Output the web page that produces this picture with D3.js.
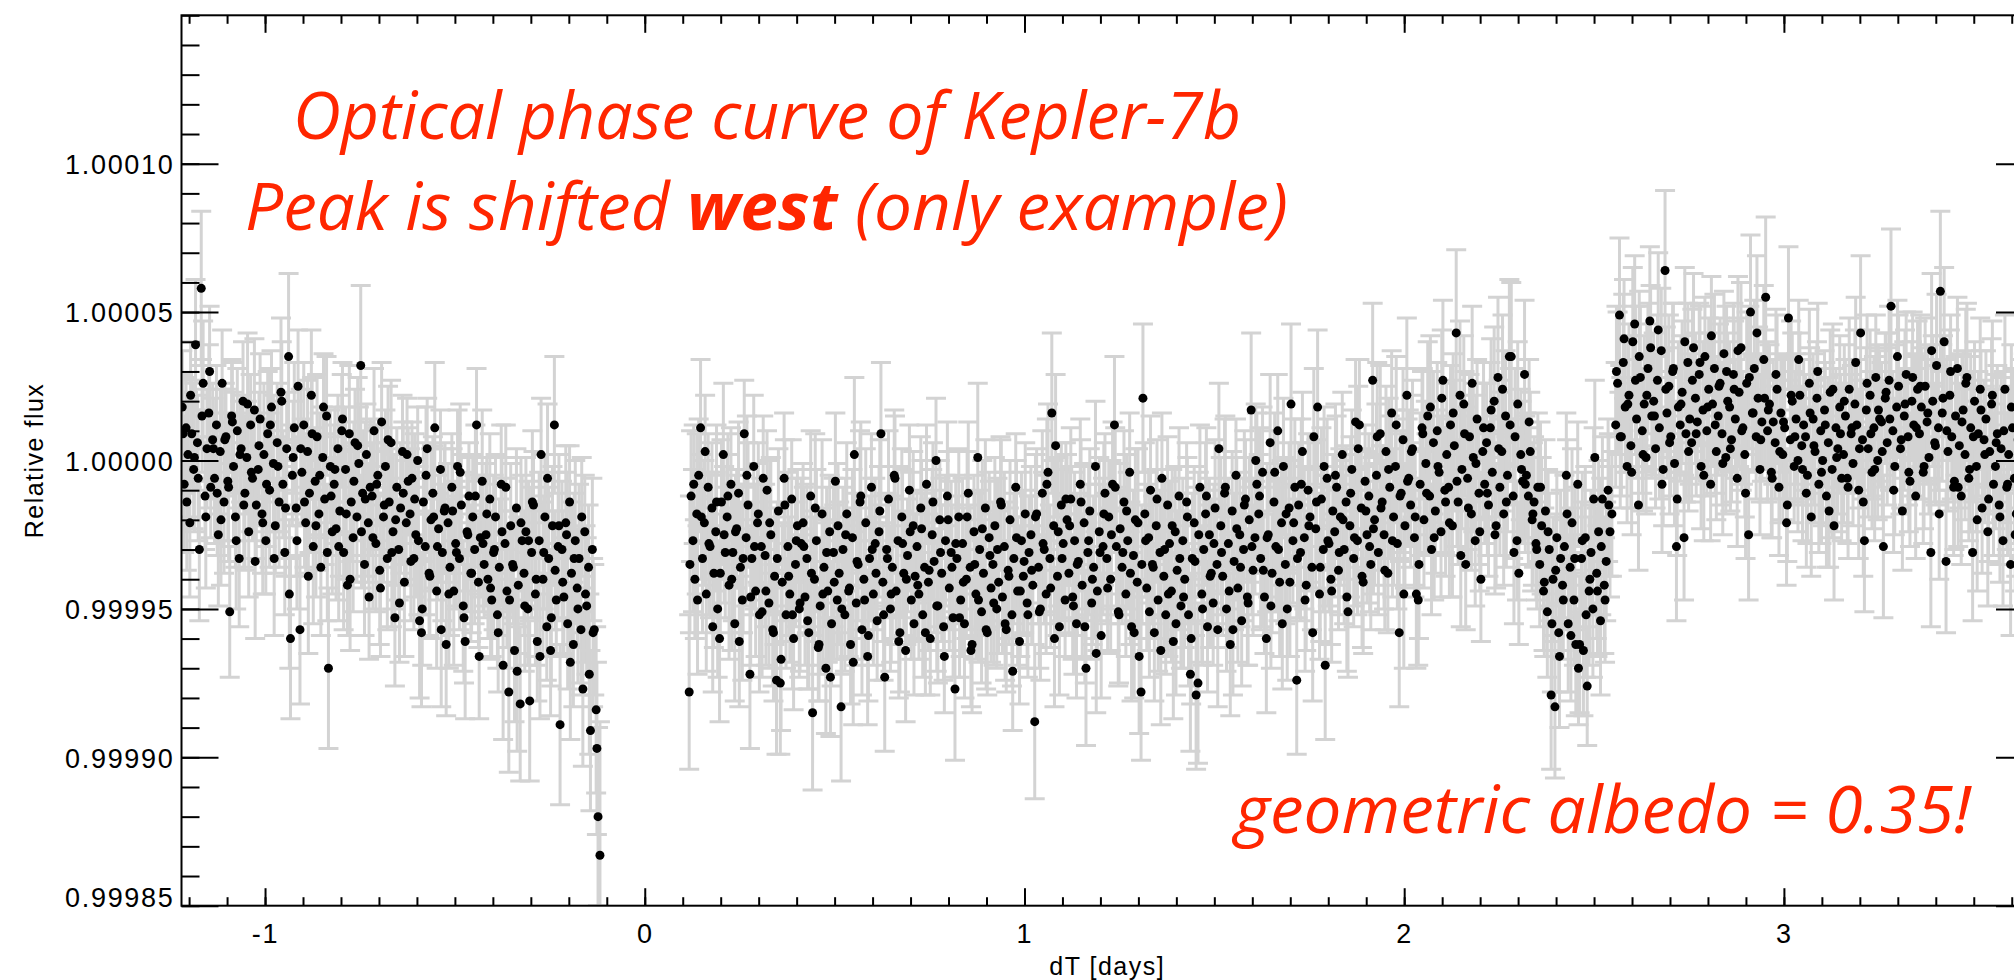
<!DOCTYPE html>
<html>
<head>
<meta charset="utf-8">
<title>Optical phase curve of Kepler-7b</title>
<script src="https://cdn.jsdelivr.net/npm/d3@7"></script>
<style>
  body { margin: 0; background: #fff; }
  svg { display: block; }
</style>
</head>
<body>
<div id="container"></div>
<script>

// 1 - DATA: dT in thousandths of a day, flux and error in ppm

// first chunk, before the transit gap
const dtA = [
  -1218,-1213,-1208,-1203,-1198,-1193,-1188,-1183,-1178,-1173,-1168,-1163,-1158,-1153,-1148,-1143,-1138,-1133,-1128,-1123,
  -1118,-1113,-1108,-1103,-1098,-1093,-1088,-1083,-1078,-1073,-1068,-1063,-1058,-1053,-1048,-1043,-1038,-1033,-1028,-1023,
  -1018,-1013,-1008,-1003,-998,-993,-988,-983,-978,-973,-968,-963,-958,-953,-948,-943,-938,-933,-928,-923,
  -918,-913,-908,-903,-898,-893,-888,-883,-878,-873,-868,-863,-858,-853,-848,-843,-838,-833,-828,-823,
  -818,-813,-808,-803,-798,-793,-788,-783,-778,-773,-768,-763,-758,-753,-748,-743,-738,-733,-728,-723,
  -718,-713,-708,-703,-698,-693,-688,-683,-678,-673,-668,-663,-658,-653,-648,-643,-638,-633,-628,-623,
  -618,-613,-608,-603,-598,-593,-588,-583,-578,-573,-568,-563,-558,-553,-548,-543,-538,-533,-528,-523,
  -518,-513,-508,-503,-498,-493,-488,-483,-478,-473,-468,-463,-458,-453,-448,-443,-438,-433,-428,-423,
  -418,-413,-408,-403,-398,-393,-388,-383,-378,-373,-368,-363,-358,-353,-348,-343,-338,-333,-328,-323,
  -318,-313,-308,-303,-298,-293,-288,-283,-278,-273,-268,-263,-258,-253,-248,-243,-238,-233,-228,-223,
  -218,-213,-208,-203,-198,-193,-188,-183,-178,-173,-168,-163,-158,-153,-148,-143,-138,-133,-128,-123,
  -118
];
const fluxA = [
  18,-8,11,2,-21,9,-3,39,6,-30,58,26,-12,4,16,-9,7,-6,12,-25,
  3,26,-14,8,-7,-51,15,-2,-19,10,-33,4,20,-11,1,-24,12,-6,17,-15,
  -3,14,-18,2,-27,9,-10,18,-1,-22,6,-14,23,-8,-31,4,35,-60,-5,11,
  -16,25,-57,-4,12,-21,3,-11,22,-29,-7,8,-18,-36,1,-13,15,-70,-2,-24,
  -8,-23,4,-17,10,-31,-3,-42,9,-14,-26,6,-19,-1,32,-11,-35,2,-21,-9,
  -12,10,-28,-5,-37,13,-19,-2,-33,-14,6,-24,-53,-9,-30,-16,3,-41,-21,-7,
  -18,-6,-33,-25,0,-54,-58,-14,-29,4,-38,-20,-11,11,-44,-23,-3,-31,-17,-62,
  -21,-36,-9,-44,-28,-2,-33,-15,-49,-61,-24,-12,-38,-19,-30,12,-41,-26,-7,-35,
  -25,-40,-13,-47,-31,-19,-52,-36,-8,-69,-28,-44,-78,-22,-35,-64,-16,-42,-82,-27,
  -38,-24,-50,-81,-31,-15,-45,-61,-27,2,-40,-19,-56,-33,-64,-22,12,-47,-29,-89,
  -30,-46,-21,-55,-14,-38,-62,-27,-43,-33,-57,-77,-24,-49,-36,-91,-30,-57,-84,-120,
  -133
];
const errA = [
  19,23,17,21,25,18,20,22,16,24,26,21,18,20,23,17,19,22,20,24,
  21,18,24,16,20,22,19,25,17,21,23,18,20,26,19,22,17,21,24,18,
  17,22,20,24,18,21,26,19,23,16,20,22,25,18,21,19,28,27,17,22,
  23,19,25,18,21,17,24,20,22,26,18,21,19,23,17,22,20,27,19,21,
  20,24,18,22,19,26,21,17,23,20,25,18,22,19,27,21,24,17,20,23,
  18,21,23,17,25,20,22,19,24,18,21,26,23,20,17,22,19,25,21,18,
  22,19,24,21,18,26,25,20,23,17,21,24,19,22,26,18,20,23,21,24,
  20,23,18,25,21,19,24,17,22,26,20,18,23,21,25,19,22,20,24,18,
  24,20,22,19,26,21,18,23,20,25,22,19,27,21,18,24,20,23,26,22,
  21,25,19,27,22,18,24,20,23,19,26,21,18,24,22,20,23,19,25,27,
  23,20,26,22,19,24,21,27,20,25,22,26,19,23,21,27,24,22,28,30,
  45
];
// interleaved points of the same chunk (other orbits folded in)
const dtA2 = [
  -1216,-1206,-1196,-1186,-1176,-1166,-1156,-1146,-1136,-1126,
  -1116,-1106,-1096,-1086,-1076,-1066,-1056,-1046,-1036,-1026,
  -1016,-1006,-996,-986,-976,-966,-956,-946,-936,-926,
  -916,-906,-896,-886,-876,-866,-856,-846,-836,-826,
  -816,-806,-796,-786,-776,-766,-756,-746,-736,-726,
  -716,-706,-696,-686,-676,-666,-656,-646,-636,-626,
  -616,-606,-596,-586,-576,-566,-556,-546,-536,-526,
  -516,-506,-496,-486,-476,-466,-456,-446,-436,-426,
  -416,-406,-396,-386,-376,-366,-356,-346,-336,-326,
  -316,-306,-296,-286,-276,-266,-256,-246,-236,-226,
  -216,-206,-196,-186,-176,-166,-156,-146,-136,-126
];
const fluxA2 = [
  9,-14,22,1,-6,15,-19,30,4,-11,
  -20,7,-9,13,-27,2,-15,19,-4,-34,
  5,-21,-8,12,-33,-2,20,-16,-45,1,
  -27,4,-14,-39,9,-22,-5,18,-31,-12,
  -3,-29,14,-18,-40,-7,5,-24,-13,-46,
  -26,-8,-43,-15,7,-31,-20,-48,-11,2,
  -34,-13,-27,-50,-5,-39,-19,-29,-57,-16,
  -45,-17,-31,-4,-53,-25,-38,-12,-66,-28,
  -18,-43,-30,-58,-24,-9,-47,-36,-71,-21,
  -49,-27,-14,-40,-66,-31,-6,-53,-37,-22,
  -41,-25,-68,-33,-50,-19,-45,-72,-58,-97
];
const errA2 = [
  20,23,18,25,21,19,24,22,17,21,
  22,19,25,20,23,18,21,24,20,26,
  18,24,21,19,26,22,20,23,25,19,
  23,20,22,26,19,24,21,18,23,20,
  21,25,19,22,24,20,23,19,26,21,
  24,19,23,21,18,25,22,20,24,19,
  20,22,25,19,23,21,24,18,26,22,
  25,21,19,23,22,26,20,24,21,23,
  19,24,22,20,25,21,23,19,27,22,
  22,20,24,26,21,19,25,23,20,24,
  24,21,26,22,25,20,23,27,25,29
];

// second chunk, from the end of the transit to the secondary eclipse
const dtB = [
  117,122,127,132,137,142,147,152,157,162,167,172,177,182,187,192,197,202,207,212,
  217,222,227,232,237,242,247,252,257,262,267,272,277,282,287,292,297,302,307,312,
  317,322,327,332,337,342,347,352,357,362,367,372,377,382,387,392,397,402,407,412,
  417,422,427,432,437,442,447,452,457,462,467,472,477,482,487,492,497,502,507,512,
  517,522,527,532,537,542,547,552,557,562,567,572,577,582,587,592,597,602,607,612,
  617,622,627,632,637,642,647,652,657,662,667,672,677,682,687,692,697,702,707,712,
  717,722,727,732,737,742,747,752,757,762,767,772,777,782,787,792,797,802,807,812,
  817,822,827,832,837,842,847,852,857,862,867,872,877,882,887,892,897,902,907,912,
  917,922,927,932,937,942,947,952,957,962,967,972,977,982,987,992,997,1002,1007,1012,
  1017,1022,1027,1032,1037,1042,1047,1052,1057,1062,1067,1072,1077,1082,1087,1092,1097,1102,1107,1112,
  1117,1122,1127,1132,1137,1142,1147,1152,1157,1162,1167,1172,1177,1182,1187,1192,1197,1202,1207,1212,
  1217,1222,1227,1232,1237,1242,1247,1252,1257,1262,1267,1272,1277,1282,1287,1292,1297,1302,1307,1312,
  1317,1322,1327,1332,1337,1342,1347,1352,1357,1362,1367,1372,1377,1382,1387,1392,1397,1402,1407,1412,
  1417,1422,1427,1432,1437,1442,1447,1452,1457,1462,1467,1472,1477,1482,1487,1492,1497,1502,1507,1512,
  1517,1522,1527,1532,1537,1542,1547,1552,1557,1562,1567,1572,1577,1582,1587,1592,1597,1602,1607,1612,
  1617,1622,1627,1632,1637,1642,1647,1652,1657,1662,1667,1672,1677,1682,1687,1692,1697,1702,1707,1712,
  1717,1722,1727,1732,1737,1742,1747,1752,1757,1762,1767,1772,1777,1782,1787,1792,1797,1802,1807,1812,
  1817,1822,1827,1832,1837,1842,1847,1852,1857,1862,1867,1872,1877,1882,1887,1892,1897,1902,1907,1912,
  1917,1922,1927,1932,1937,1942,1947,1952,1957,1962,1967,1972,1977,1982,1987,1992,1997,2002,2007,2012,
  2017,2022,2027,2032,2037,2042,2047,2052,2057,2062,2067,2072,2077,2082,2087,2092,2097,2102,2107,2112,
  2117,2122,2127,2132,2137,2142,2147,2152,2157,2162,2167,2172,2177,2182,2187,2192,2197,2202,2207,2212,
  2217,2222,2227,2232,2237,2242,2247,2252,2257,2262,2267,2272,2277,2282,2287,2292,2297,2302,2307,2312,
  2317,2322,2327,2332,2337,2342,2347,2352,2357,2362,2367,2372,2377,2382,2387,2392,2397,2402,2407,2412,
  2417,2422,2427,2432,2437,2442,2447,2452,2457,2462,2467,2472,2477,2482,2487,2492,2497,2502,2507,2512,
  2517,2522,2527,2532,2537,2542,2547
];
const fluxB = [
  -78,-12,-27,-40,-18,-5,11,-33,-21,-45,-9,-29,-16,-38,-24,-50,-60,-14,2,-31,
  -19,-42,-8,-31,-55,-23,-11,-36,-47,9,-26,-15,-72,-33,-2,-44,-21,-52,-29,-6,
  -32,-10,-48,-25,-57,-39,-74,-17,-75,-41,-6,-52,-29,-45,-13,-60,-35,-22,-50,-28,
  -21,-46,-33,-58,-12,-85,-40,-27,-63,-49,-18,-36,-70,-44,-24,-55,-31,-7,-47,-38,
  -83,-30,-52,-18,-44,-62,-26,2,-48,-35,-14,-57,-40,-21,-66,-33,-9,-45,-28,-54,
  -24,9,-41,-73,-30,-13,-50,-36,-5,-44,-27,-58,-19,-38,-64,-32,-10,-47,-22,-39,
  -29,-45,-16,-52,-36,-8,-41,-60,-25,-34,0,-49,-20,-38,-56,-27,-12,-43,-31,-53,
  -77,-33,-19,-47,-28,-55,-40,-11,-36,-62,-24,-45,1,-30,-51,-38,-16,-58,-26,-43,
  -35,-22,-50,-41,-14,-46,-29,-57,-37,-20,-52,-33,-9,-44,-61,-27,-39,-18,-48,-31,
  -25,-42,-88,-18,-36,-50,-11,-30,-45,-4,-33,16,-22,5,-39,-56,-15,-28,-47,-20,
  -38,-13,-46,-27,-55,-34,-8,-42,-21,-70,-31,-17,-48,-36,-2,-44,-24,-59,-29,-11,
  -33,-19,-40,-8,12,-29,-51,-23,-36,-14,-45,-27,-4,-56,-32,-20,-41,-66,-78,21,
  -18,-43,-26,-10,-35,-58,-22,-47,-31,-6,-39,-52,-15,-28,-44,-61,-24,-37,-12,-49,
  -27,-40,-14,-52,-72,-33,-21,-79,-75,-9,-45,-30,-18,-56,-25,-38,-48,-16,-35,4,
  -22,-39,-11,-50,-28,-62,-17,-34,-5,-43,-25,-54,-30,-13,-46,-20,17,-37,-26,-8,
  -18,-33,-4,-46,-60,-25,6,-38,-14,-29,10,-41,-21,-2,-35,-50,-16,19,-27,-9,
  -74,-15,-31,3,-26,-42,-10,-19,-36,8,-23,18,-45,-13,-30,-69,-6,-28,-40,-17,
  -24,-9,-37,-19,2,-30,-14,-51,-22,-3,-33,13,-27,12,-16,-41,-7,-25,-12,-35,
  27,-20,-5,-31,9,-14,-25,3,-38,-9,16,-19,-2,-28,-58,-11,7,-22,22,-6,
  -15,4,-26,-45,-47,-8,11,-20,-1,15,-12,-30,6,-17,10,-4,-24,27,-10,2,
  -9,12,-22,5,43,-14,22,-3,19,-35,-6,8,-18,1,-27,14,-11,-40,3,-8,
  6,-15,11,-4,20,-22,28,-9,3,-18,15,-5,35,35,-12,8,-27,-38,2,-7,
  29,-5,-12,3,-20,-14,-28,-9,-35,-22,-44,-17,-51,-30,-79,-40,-83,-26,-58,-33,
  -42,-29,-5,-55,-36,-21,-47,-62,-8,-62,-33,-64,-26,-76,-44,-31,-50,1,-38,-24,
  -54,-13,-42,-34,-10,-24,-18
];
const errB = [
  26,22,24,20,27,19,23,25,21,26,18,24,22,25,20,23,28,21,24,22,
  21,25,19,23,26,20,24,22,27,18,23,21,25,19,24,22,20,26,23,21,
  24,20,22,26,19,23,25,21,24,20,22,18,25,23,20,24,21,19,23,22,
  20,23,25,19,22,26,21,24,18,23,25,20,22,24,19,21,25,23,20,24,
  25,21,19,24,22,20,23,26,21,19,24,22,20,25,23,21,18,24,22,20,
  22,24,20,25,19,23,21,24,22,18,25,20,23,21,24,19,22,20,25,21,
  19,22,24,21,25,20,23,19,22,24,21,26,20,23,18,22,25,21,24,20,
  24,21,23,19,22,25,20,24,21,23,19,22,25,20,24,18,23,21,22,25,
  21,23,20,24,22,19,25,21,23,20,24,22,18,25,21,23,20,24,22,19,
  23,20,26,22,19,24,21,25,20,23,18,27,22,24,20,23,21,25,19,22,
  20,24,21,23,25,19,22,24,20,26,23,21,19,24,22,20,25,21,23,20,
  22,19,24,21,23,20,25,22,19,24,21,23,20,25,22,24,19,26,23,25,
  24,21,22,25,20,23,19,24,21,22,25,20,23,21,24,26,22,20,23,21,
  21,23,20,24,26,22,19,25,27,21,23,20,24,22,19,25,21,23,20,22,
  23,20,25,21,22,24,20,23,19,25,21,22,24,20,23,21,26,22,19,24,
  20,24,22,19,25,21,23,20,24,22,19,25,21,23,20,24,22,27,21,23,
  25,21,23,20,24,22,19,25,21,23,20,26,22,24,21,25,20,23,22,19,
  22,24,20,23,21,25,19,22,24,20,23,21,25,22,20,24,19,23,21,22,
  26,22,24,21,23,19,25,22,20,24,21,23,19,22,25,20,24,21,26,23,
  21,23,20,25,22,24,19,23,21,25,20,22,24,21,23,19,22,27,21,24,
  23,20,24,22,28,21,25,20,23,22,24,21,19,25,22,20,24,21,23,20,
  20,24,22,19,25,21,27,23,20,24,22,19,26,25,21,23,20,24,22,21,
  25,21,23,20,24,22,19,25,21,23,20,24,22,19,25,21,24,22,20,23,
  22,24,21,23,20,25,22,24,21,23,19,22,24,20,25,21,23,26,22,24,
  25,21,23,20,24,22,21
];
const dtB2 = [
  119,129,139,149,159,169,179,189,199,209,
  219,229,239,249,259,269,279,289,299,309,
  319,329,339,349,359,369,379,389,399,409,
  419,429,439,449,459,469,479,489,499,509,
  519,529,539,549,559,569,579,589,599,609,
  619,629,639,649,659,669,679,689,699,709,
  719,729,739,749,759,769,779,789,799,809,
  819,829,839,849,859,869,879,889,899,909,
  919,929,939,949,959,969,979,989,999,1009,
  1019,1029,1039,1049,1059,1069,1079,1089,1099,1109,
  1119,1129,1139,1149,1159,1169,1179,1189,1199,1209,
  1219,1229,1239,1249,1259,1269,1279,1289,1299,1309,
  1319,1329,1339,1349,1359,1369,1379,1389,1399,1409,
  1419,1429,1439,1449,1459,1469,1479,1489,1499,1509,
  1519,1529,1539,1549,1559,1569,1579,1589,1599,1609,
  1619,1629,1639,1649,1659,1669,1679,1689,1699,1709,
  1719,1729,1739,1749,1759,1769,1779,1789,1799,1809,
  1819,1829,1839,1849,1859,1869,1879,1889,1899,1909,
  1919,1929,1939,1949,1959,1969,1979,1989,1999,2009,
  2019,2029,2039,2049,2059,2069,2079,2089,2099,2109,
  2119,2129,2139,2149,2159,2169,2179,2189,2199,2209,
  2219,2229,2239,2249,2259,2269,2279,2289,2299,2309,
  2319,2329,2339,2349,2359,2369,2379,2389,2399,2409,
  2419,2429,2439,2449,2459,2469,2479,2489,2499,2509,
  2519,2529,2539
];
const fluxB2 = [
  -35,-8,-47,-19,3,-28,-56,-14,-38,-25,
  -12,-40,-24,-61,-33,-5,-46,-29,-18,-51,
  -44,-21,-58,-33,-67,-15,-39,-52,-27,-48,
  -29,-54,-38,-16,-62,-45,-31,-73,-41,-22,
  -50,-25,-43,-68,-34,-12,-47,-59,-30,-38,
  -17,-52,-33,-45,-6,-61,-28,-40,-24,-55,
  -42,-23,-58,-37,-14,-49,-31,-66,-20,-36,
  -28,-53,-41,-19,-64,-35,-47,-23,-57,-32,
  -48,-30,-15,-55,-39,-71,-26,-44,-34,-52,
  -37,-19,-51,-28,-8,-43,-60,-24,-33,-13,
  -22,-49,-35,-14,-56,-27,-40,-65,-31,-18,
  -43,-25,-9,-52,-31,-17,-38,-58,-21,-35,
  -27,-51,-36,-13,-64,-30,-45,-22,-55,-33,
  -46,-19,-60,-34,-25,-50,-12,-39,-28,-57,
  -31,-9,-44,-57,-23,-36,-15,-48,-29,0,
  -12,-37,-26,-49,-4,-30,-55,-18,-41,-21,
  -33,-8,-47,-22,-58,-14,-36,-2,-27,-44,
  -5,-31,-20,-46,-11,-26,4,-39,-17,-29,
  -23,8,-16,-37,-3,-27,12,-12,-45,-7,
  3,-19,-35,9,-11,18,-26,-2,21,-14,
  -21,16,-7,-32,9,-16,26,-1,-24,11,
  -11,17,-25,4,24,-14,12,-31,19,-3,
  -8,13,-18,-30,-9,-41,-24,-55,-37,-66,
  -47,-18,-59,-33,-70,-27,-52,-40,-13,-44,
  -29,-47,-15
];
const errB2 = [
  23,20,25,21,19,24,22,26,20,23,
  21,24,19,22,25,20,23,21,24,22,
  25,21,23,19,24,22,20,25,21,23,
  20,23,21,25,19,24,22,20,26,21,
  22,19,24,21,23,25,20,22,24,19,
  24,22,20,23,21,19,25,22,20,24,
  19,23,21,24,20,22,25,19,23,21,
  23,20,25,22,19,24,21,23,20,25,
  21,24,22,19,23,20,26,22,24,21,
  25,21,19,24,22,20,23,25,21,19,
  20,23,24,21,19,25,22,20,23,24,
  22,25,20,23,21,19,24,22,25,20,
  19,22,24,20,25,23,21,19,24,22,
  24,20,22,25,21,19,23,24,20,26,
  21,24,19,22,24,20,25,21,23,19,
  23,19,25,21,20,24,22,19,25,21,
  20,22,24,19,23,21,25,20,22,24,
  24,21,20,25,19,23,21,24,20,22,
  22,25,21,20,24,19,23,22,25,21,
  19,23,25,22,20,24,21,19,23,25,
  25,20,22,24,21,19,26,23,20,22,
  21,24,20,23,25,22,19,24,21,23,
  23,21,24,20,22,25,21,23,19,24,
  20,25,22,24,19,23,21,25,24,22,
  23,21,24
];

// third chunk, after the secondary eclipse
const dtC = [
  2557,2562,2567,2572,2577,2582,2587,2592,2597,2602,2607,2612,2617,2622,2627,2632,2637,2642,2647,2652,
  2657,2662,2667,2672,2677,2682,2687,2692,2697,2702,2707,2712,2717,2722,2727,2732,2737,2742,2747,2752,
  2757,2762,2767,2772,2777,2782,2787,2792,2797,2802,2807,2812,2817,2822,2827,2832,2837,2842,2847,2852,
  2857,2862,2867,2872,2877,2882,2887,2892,2897,2902,2907,2912,2917,2922,2927,2932,2937,2942,2947,2952,
  2957,2962,2967,2972,2977,2982,2987,2992,2997,3002,3007,3012,3017,3022,3027,3032,3037,3042,3047,3052,
  3057,3062,3067,3072,3077,3082,3087,3092,3097,3102,3107,3112,3117,3122,3127,3132,3137,3142,3147,3152,
  3157,3162,3167,3172,3177,3182,3187,3192,3197,3202,3207,3212,3217,3222,3227,3232,3237,3242,3247,3252,
  3257,3262,3267,3272,3277,3282,3287,3292,3297,3302,3307,3312,3317,3322,3327,3332,3337,3342,3347,3352,
  3357,3362,3367,3372,3377,3382,3387,3392,3397,3402,3407,3412,3417,3422,3427,3432,3437,3442,3447,3452,
  3457,3462,3467,3472,3477,3482,3487,3492,3497,3502,3507,3512,3517,3522,3527,3532,3537,3542,3547,3552,
  3557,3562,3567,3572,3577,3582,3587,3592,3597,3602,3607,3612,3617,3622,3627,3632,3637,3642,3647,3652
];
const fluxC = [
  12,26,49,8,33,18,-2,22,5,40,46,14,-15,28,10,19,1,31,47,15,
  20,4,27,11,37,-3,64,16,25,8,30,-1,-29,18,12,23,-26,9,33,14,
  6,38,21,13,29,-2,17,35,10,24,-8,19,31,3,15,26,9,36,1,20,
  18,7,29,14,-6,23,38,11,2,26,-25,50,16,31,8,21,-3,13,34,55,
  10,19,-4,13,6,24,-9,16,2,11,-21,48,7,20,-2,14,0,22,5,12,
  8,-5,26,-19,14,3,21,-8,10,0,17,-12,6,23,-3,-22,11,4,18,-6,
  2,15,-6,24,9,-1,19,12,-10,43,7,-27,17,4,22,-4,11,28,0,14,
  13,-29,21,6,27,52,10,-2,18,25,4,-17,15,29,8,-7,20,12,-12,24,
  9,18,-4,25,13,1,-31,20,6,32,11,57,16,40,-34,3,22,8,-9,15,
  31,5,-12,17,2,28,-6,11,-31,20,-2,9,24,-16,7,14,-24,3,19,-8,
  -2,9,-15,4,-27,24,-9,2,-35,11,-6,-18,7,-3,-13,14,-21,1,-10,5
];
const errC = [
  21,24,26,20,23,22,19,24,21,25,23,20,22,24,21,23,19,22,25,21,
  23,20,22,24,21,19,27,22,24,20,23,21,25,22,19,24,21,23,20,22,
  20,25,22,19,24,21,23,20,22,24,19,21,25,23,20,22,24,21,19,23,
  22,21,24,20,23,25,22,19,21,24,22,26,20,23,21,24,22,20,25,27,
  24,20,22,21,19,25,23,20,22,24,21,24,20,23,19,22,24,21,20,22,
  21,23,25,20,22,24,19,23,21,22,20,24,22,21,23,25,20,22,24,21,
  23,19,22,24,20,21,25,22,23,26,20,24,21,23,22,19,24,21,20,23,
  20,24,22,21,25,26,20,23,21,24,22,20,25,21,23,22,20,24,21,23,
  22,20,24,23,21,19,25,22,20,24,21,27,23,25,24,20,22,21,23,20,
  24,21,23,20,22,25,21,24,23,20,22,21,24,22,20,23,25,21,22,24,
  21,23,20,24,22,25,21,23,24,20,22,21,23,25,20,22,24,21,23,20
];
const dtC2 = [
  2559,2569,2579,2589,2599,2609,2619,2629,2639,2649,
  2659,2669,2679,2689,2699,2709,2719,2729,2739,2749,
  2759,2769,2779,2789,2799,2809,2819,2829,2839,2849,
  2859,2869,2879,2889,2899,2909,2919,2929,2939,2949,
  2959,2969,2979,2989,2999,3009,3019,3029,3039,3049,
  3059,3069,3079,3089,3099,3109,3119,3129,3139,3149,
  3159,3169,3179,3189,3199,3209,3219,3229,3239,3249,
  3259,3269,3279,3289,3299,3309,3319,3329,3339,3349,
  3359,3369,3379,3389,3399,3409,3419,3429,3439,3449,
  3459,3469,3479,3489,3499,3509,3519,3529,3539,3549,
  3559,3569,3579,3589,3599,3609,3619,3629,3639,3649
];
const fluxC2 = [
  30,8,41,19,-4,27,35,2,22,38,
  15,44,-8,24,6,31,-13,19,40,3,
  27,9,33,-5,18,42,12,25,-1,30,
  4,24,37,10,-11,28,16,43,7,21,
  17,-6,29,3,13,-15,22,8,34,-3,
  -11,16,5,30,-4,12,-17,24,1,9,
  20,-9,11,33,4,-14,26,9,-3,17,
  3,23,14,-10,35,7,19,-4,28,11,
  25,-2,16,37,5,-18,21,10,30,-7,
  -9,13,26,-3,8,-20,17,2,-13,22,
  6,-19,10,-8,18,-25,-1,12,-14,-5
];
const errC2 = [
  22,24,20,23,21,25,22,19,24,21,
  20,26,23,21,24,22,19,23,25,20,
  24,21,19,22,25,20,23,21,24,22,
  21,23,25,20,22,24,19,26,21,23,
  23,20,22,24,21,19,25,22,20,24,
  25,22,20,23,24,21,19,22,25,20,
  19,24,21,22,20,25,23,21,24,22,
  22,20,24,21,19,23,25,20,22,24,
  24,21,23,26,20,22,21,24,19,23,
  20,23,25,21,22,24,20,23,21,25,
  23,22,20,24,21,19,23,22,25,20
];

// axis ticks
const xMajorTicks = [-1, 0, 1, 2, 3];
const yMajorTicks = [0.99985, 0.99990, 0.99995, 1.00000, 1.00005, 1.00010];

// text on the chart
const titleLine1 = "Optical phase curve of Kepler-7b";
const titleLine2 = ["Peak is shifted ", "west", " (only example)"];
const albedoNote = "geometric albedo = 0.35!";


// 2 - LAYOUT - page size and the plot frame (IDL style, right edge runs off the page)

const width = 2014;
const height = 980;
const frame = { left: 181.5, right: 2033, top: 15.3, bottom: 905.7 };

const red = "#ff2600";
const tickFont = "'Liberation Sans', Arial, Helvetica, sans-serif";
const noteFont = "'Open Sans', 'Noto Sans', Lato, sans-serif";

// join all chunks into one list of points
const chunks = [
  { dT: dtA, flux: fluxA, err: errA },
  { dT: dtA2, flux: fluxA2, err: errA2 },
  { dT: dtB, flux: fluxB, err: errB },
  { dT: dtB2, flux: fluxB2, err: errB2 },
  { dT: dtC, flux: fluxC, err: errC },
  { dT: dtC2, flux: fluxC2, err: errC2 }
];
const data = chunks.flatMap(c => {
  const n = Math.min(c.dT.length, c.flux.length, c.err.length);
  return c.dT.slice(0, n).map((t, i) => ({
    dT: t / 1000,
    flux: 1 + c.flux[i] / 1e6,
    err: c.err[i] / 1e6
  }));
}).sort((a, b) => a.dT - b.dT);


// 3 - SCALES

const xScale = d3.scaleLinear()
  .domain([-1.22, 3.656])
  .range([frame.left, frame.right]);

const yScale = d3.scaleLinear()
  .domain([0.99985, 1.00015])
  .range([frame.bottom, frame.top]);

const xMinorTicks = d3.range(-12, 37).map(d => d / 10);
const yMinorTicks = d3.range(99985, 100016).map(d => d / 1e5);


// 4 - ELEMENTS

const svg = d3.select("#container")
  .append("svg")
  .attr("width", width)
  .attr("height", height);

svg.append("rect")
  .attr("width", width)
  .attr("height", height)
  .attr("fill", "#fff");

svg.append("defs")
  .append("clipPath")
  .attr("id", "plot-clip")
  .append("rect")
  .attr("x", frame.left)
  .attr("y", frame.top)
  .attr("width", frame.right - frame.left)
  .attr("height", frame.bottom - frame.top);

const plotArea = svg.append("g").attr("clip-path", "url(#plot-clip)");

// gray error bars with caps
const cap = 10;
plotArea.selectAll("path.err")
  .data(data)
  .join("path")
  .attr("class", "err")
  .attr("d", d => {
    const x = xScale(d.dT);
    const y0 = yScale(d.flux - d.err);
    const y1 = yScale(d.flux + d.err);
    return `M${x - cap},${y1}H${x + cap}M${x},${y1}V${y0}M${x - cap},${y0}H${x + cap}`;
  })
  .attr("fill", "none")
  .attr("stroke", "#d3d3d3")
  .attr("stroke-width", 3);

// black points on top
plotArea.selectAll("circle.pt")
  .data(data)
  .join("circle")
  .attr("class", "pt")
  .attr("cx", d => xScale(d.dT))
  .attr("cy", d => yScale(d.flux))
  .attr("r", 4.5)
  .attr("fill", "#000");


// 5 - AXES - ticks point inward on all four sides

function styleAxis(g) {
  g.select(".domain").remove();
  g.selectAll("line").attr("stroke", "#000").attr("stroke-width", 2);
  g.selectAll("text")
    .attr("fill", "#000")
    .style("font-family", tickFont)
    .style("font-size", "27px")
    .style("letter-spacing", "1.7px");
}

// minor ticks
svg.append("g")
  .attr("transform", `translate(0,${frame.bottom})`)
  .call(d3.axisBottom(xScale).tickValues(xMinorTicks).tickSize(-8.5).tickFormat(""))
  .call(styleAxis);
svg.append("g")
  .attr("transform", `translate(0,${frame.top})`)
  .call(d3.axisTop(xScale).tickValues(xMinorTicks).tickSize(-8.5).tickFormat(""))
  .call(styleAxis);
svg.append("g")
  .attr("transform", `translate(${frame.left},0)`)
  .call(d3.axisLeft(yScale).tickValues(yMinorTicks).tickSize(-18).tickFormat(""))
  .call(styleAxis);
svg.append("g")
  .attr("transform", `translate(${frame.right},0)`)
  .call(d3.axisRight(yScale).tickValues(yMinorTicks).tickSize(-18).tickFormat(""))
  .call(styleAxis);

// major ticks and labels
svg.append("g")
  .attr("transform", `translate(0,${frame.bottom})`)
  .call(d3.axisBottom(xScale).tickValues(xMajorTicks).tickSize(-17.5).tickPadding(18)
    .tickFormat(d => String(d)))
  .call(styleAxis);
svg.append("g")
  .attr("transform", `translate(0,${frame.top})`)
  .call(d3.axisTop(xScale).tickValues(xMajorTicks).tickSize(-17.5).tickFormat(""))
  .call(styleAxis);

const yAxisLeft = svg.append("g")
  .attr("transform", `translate(${frame.left},0)`)
  .call(d3.axisLeft(yScale).tickValues(yMajorTicks).tickSize(-37).tickPadding(7)
    .tickFormat(d3.format(".5f")))
  .call(styleAxis);
// the lowest label sits raised against the bottom edge, as in the original
yAxisLeft.selectAll("text").attr("dy", (d, i) => i === 0 ? 1 : 9.7);

svg.append("g")
  .attr("transform", `translate(${frame.right},0)`)
  .call(d3.axisRight(yScale).tickValues(yMajorTicks).tickSize(-37).tickFormat(""))
  .call(styleAxis);

// frame
svg.append("rect")
  .attr("x", frame.left)
  .attr("y", frame.top)
  .attr("width", frame.right - frame.left)
  .attr("height", frame.bottom - frame.top)
  .attr("fill", "none")
  .attr("stroke", "#000")
  .attr("stroke-width", 2);

// axis titles
svg.append("text")
  .attr("x", (frame.left + frame.right) / 2)
  .attr("y", 975)
  .attr("text-anchor", "middle")
  .style("font-family", tickFont)
  .style("font-size", "25px")
  .style("letter-spacing", "1.5px")
  .text("dT [days]");

svg.append("text")
  .attr("transform", `translate(43,${(frame.top + frame.bottom) / 2}) rotate(-90)`)
  .attr("text-anchor", "middle")
  .style("font-family", tickFont)
  .style("font-size", "25px")
  .style("letter-spacing", "1.5px")
  .text("Relative flux");


// 6 - ANNOTATIONS - red italic notes

function note(x, y, len) {
  return svg.append("text")
    .attr("x", x)
    .attr("y", y)
    .attr("textLength", len)
    .attr("lengthAdjust", "spacingAndGlyphs")
    .attr("fill", red)
    .style("font-family", noteFont)
    .style("font-style", "italic")
    .style("font-size", "66px");
}

note(293, 139, 948).text(titleLine1);

const line2 = note(245, 230, 1043);
line2.selectAll("tspan")
  .data(titleLine2)
  .join("tspan")
  .style("font-weight", (d, i) => i === 1 ? "bold" : "normal")
  .text(d => d);

note(1235, 833, 736).text(albedoNote);

</script>
</body>
</html>
